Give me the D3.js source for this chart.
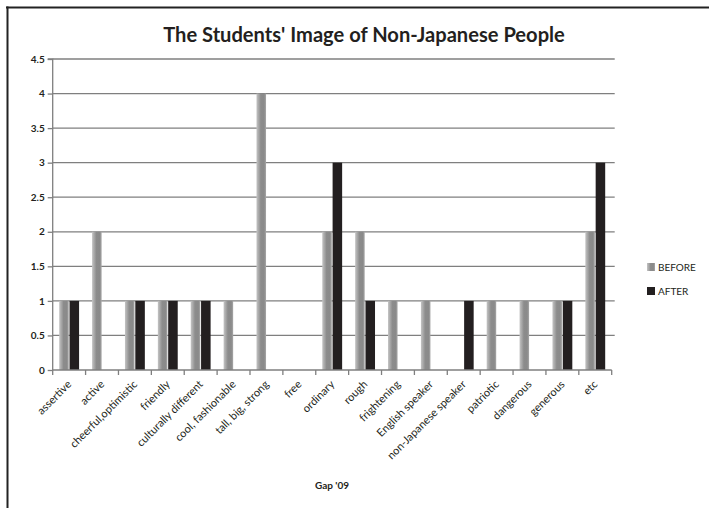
<!DOCTYPE html>
<html><head><meta charset="utf-8">
<script src="https://cdn.jsdelivr.net/npm/d3@7"></script>
<style>
html,body{margin:0;padding:0;background:#fff;}
svg{display:block;}
text{font-family:Lato,"Open Sans",sans-serif;fill:#231f20;}
</style></head><body>
<svg id="chart" width="709" height="508"></svg>
<script>
const categories = ["assertive","active","cheerful,optimistic","friendly","culturally different","cool, fashionable","tall, big, strong","free","ordinary","rough","frightening","English speaker","non-Japanese speaker","patriotic","dangerous","generous","etc"];
const before = [1,2,1,1,1,1,4,0,2,2,1,1,0,1,1,1,2];
const after  = [1,0,1,1,1,0,0,0,3,1,0,0,1,0,0,1,3];
const seriesNames = ["BEFORE","AFTER"];
const yTicks = [0,0.5,1,1.5,2,2.5,3,3.5,4,4.5];
const titleText = "The Students' Image of Non-Japanese People";
const xTitle = "Gap '09";

const svg = d3.select("#chart");
const pLeft = 52.7, pRight = 611.7, pTop = 59, pBottom = 370;

// frame
svg.append("line").attr("x1",6).attr("x2",709).attr("y1",7.5).attr("y2",7.5).attr("stroke","#222").attr("stroke-width",2);
svg.append("line").attr("x1",7.5).attr("x2",7.5).attr("y1",6.5).attr("y2",508).attr("stroke","#222").attr("stroke-width",2);

const defs = svg.append("defs");
const grad = defs.append("linearGradient").attr("id","gray").attr("x1","0").attr("x2","1").attr("y1","0").attr("y2","0");
grad.append("stop").attr("offset","0").attr("stop-color","#c4c4c4");
grad.append("stop").attr("offset","0.45").attr("stop-color","#8c8c8c");
grad.append("stop").attr("offset","0.8").attr("stop-color","#8a8a8a");
grad.append("stop").attr("offset","1").attr("stop-color","#a8a8a8");

const x = d3.scaleBand().domain(categories).range([pLeft,pRight]).paddingInner(0).paddingOuter(0);
const y = d3.scaleLinear().domain([0,4.5]).range([pBottom,pTop]);

// gridlines
svg.append("g").selectAll("line").data(yTicks.filter(d=>d>0)).join("line")
  .attr("x1",pLeft).attr("x2",pRight+3).attr("y1",d=>y(d)).attr("y2",d=>y(d))
  .attr("stroke","#7f7f7f").attr("stroke-width",1.3);

// y axis
const yAxis = d3.axisLeft(y).tickValues(yTicks).tickSize(5).tickFormat(d=>String(d));
const gy = svg.append("g").attr("transform",`translate(${pLeft},0)`).call(yAxis);
gy.select(".domain").attr("stroke","#7f7f7f").attr("stroke-width",1.3).attr("d",`M-5,${pTop}H0V${pBottom}`);
gy.selectAll(".tick line").attr("stroke","#7f7f7f").attr("stroke-width",1.3);
gy.selectAll(".tick text").attr("x",-8).style("font-size","10px").style("font-weight","bold").attr("fill","#231f20");

// bars
const bw = x.bandwidth()*0.29;
const gap = 0.8;
const g = svg.append("g");
g.selectAll("rect.b").data(categories).join("rect").attr("class","b")
  .attr("x",(d)=>x(d)+x.bandwidth()/2-bw-gap/2).attr("width",bw)
  .attr("y",(d,i)=>y(before[i])).attr("height",(d,i)=>y(0)-y(before[i]))
  .attr("fill","url(#gray)");
g.selectAll("rect.a").data(categories).join("rect").attr("class","a")
  .attr("x",(d)=>x(d)+x.bandwidth()/2+gap/2).attr("width",bw)
  .attr("y",(d,i)=>y(after[i])).attr("height",(d,i)=>y(0)-y(after[i]))
  .attr("fill","#231f20");

// x axis
const gx = svg.append("g").attr("transform",`translate(0,${pBottom})`);
gx.append("line").attr("x1",pLeft).attr("x2",pRight).attr("y1",0).attr("y2",0).attr("stroke","#7f7f7f").attr("stroke-width",1.3);
const bounds = categories.map(c=>x(c)).concat([pRight]);
gx.selectAll("line.t").data(bounds).join("line").attr("class","t")
  .attr("x1",d=>d).attr("x2",d=>d).attr("y1",0).attr("y2",5).attr("stroke","#7f7f7f").attr("stroke-width",1.3);
gx.selectAll("text").data(categories).join("text")
  .attr("transform",d=>`translate(${x(d)+x.bandwidth()/2+3},${15}) rotate(-45)`)
  .attr("text-anchor","end").style("font-size","11px").text(d=>d);

// title
const t = svg.append("text").attr("x",364).attr("y",42).attr("text-anchor","middle")
  .style("font-size","20px").style("font-weight","bold").text(titleText);
const tw = t.node().getComputedTextLength();
t.style("font-size",(20*402/tw).toFixed(2)+"px");

// x title
svg.append("text").attr("x",332).attr("y",489).attr("text-anchor","middle")
  .style("font-size","10px").style("font-weight","bold").text(xTitle);

// legend
const lg = svg.append("g");
seriesNames.forEach((n,i)=>{
  const yy = 267 + i*24;
  lg.append("rect").attr("x",647).attr("y",yy-4).attr("width",8).attr("height",8)
    .attr("fill", i===0 ? "url(#gray)" : "#231f20");
  lg.append("text").attr("x",658).attr("y",yy+4).style("font-size","10px").text(n);
});
</script>
</body></html>
